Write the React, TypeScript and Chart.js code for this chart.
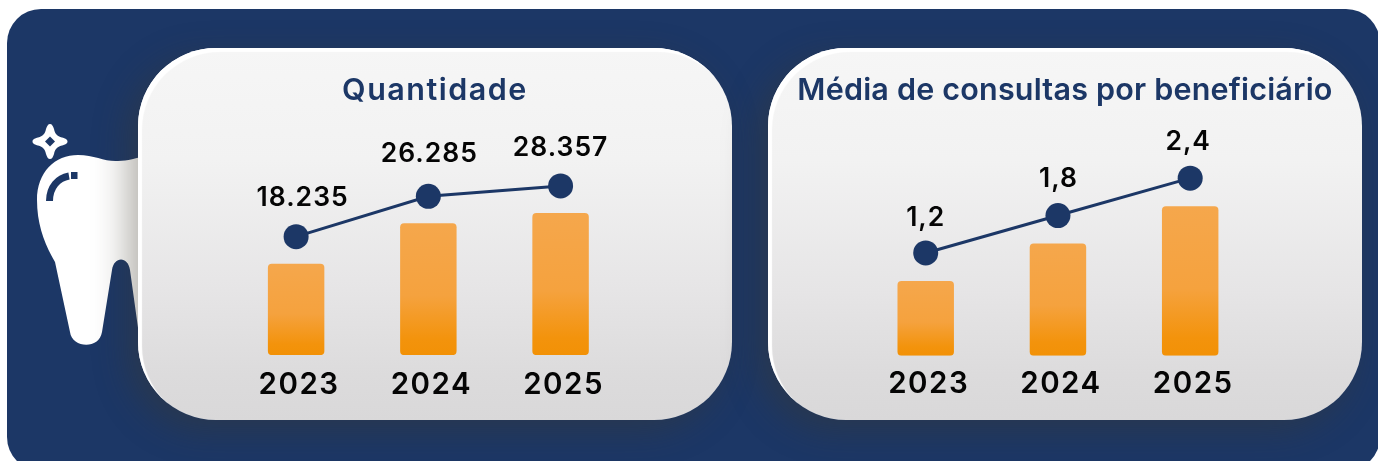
import React, { useEffect, useRef } from "react";
import { Chart, registerables } from "chart.js";

Chart.register(...registerables);

const years = ["2023", "2024", "2025"];
const quantidadeValues = [18235, 26285, 28357];
const quantidadeLabels = ["18.235", "26.285", "28.357"];
const mediaValues = [1.2, 1.8, 2.4];
const mediaLabels = ["1,2", "1,8", "2,4"];

const NAVY = "#1c3766";
const TEXT_FONT = "Inter";

const valueLabelPlugin = {
  id: "valueLabels",
  beforeDraw(chart: any, _args: any, opts: any) {
    const ctx = chart.ctx;
    ctx.letterSpacing = "1.5px";
    const block = chart.titleBlock;
    if (block && !block.__spaced) {
      const draw = block.draw;
      block.__spaced = true;
      block.draw = function (...rest: any[]) {
        ctx.save();
        ctx.letterSpacing = opts.titleSpacing;
        draw.apply(this, rest);
        ctx.restore();
      };
    }
  },
  afterDatasetsDraw(chart: any, _args: any, opts: any) {
    const ctx = chart.ctx;
    const points = chart.getDatasetMeta(1).data;
    ctx.save();
    ctx.letterSpacing = "1px";
    ctx.font = `600 26.5px ${TEXT_FONT}`;
    ctx.fillStyle = "#050505";
    ctx.textAlign = "center";
    ctx.textBaseline = "middle";
    points.forEach((p: any, i: number) => {
      ctx.fillText(opts.labels[i], p.x + opts.shift[i], p.y - opts.lift[i]);
    });
    ctx.restore();
  },
};

function barGradient(c: any) {
  const { chart, dataIndex, dataset } = c;
  const y = chart.scales.y;
  if (!y || dataIndex === undefined) return "#f5a544";
  const top = y.getPixelForValue(dataset.data[dataIndex]);
  const bottom = y.getPixelForValue(0);
  if (!Number.isFinite(top) || !Number.isFinite(bottom)) return "#f5a544";
  const g = chart.ctx.createLinearGradient(0, top, 0, bottom);
  g.addColorStop(0, "#f5a74c");
  g.addColorStop(0.55, "#f5a23e");
  g.addColorStop(0.88, "#f3930c");
  g.addColorStop(1, "#f29106");
  return g;
}

function Card(props: any) {
  const ref = useRef<HTMLCanvasElement>(null);
  useEffect(() => {
    const hiddenAxis = { grid: { display: false }, border: { display: false }, ticks: { display: false } };
    const chart = new Chart(ref.current as HTMLCanvasElement, {
      data: {
        labels: years,
        datasets: [
          {
            type: "bar",
            data: props.values,
            yAxisID: "y",
            backgroundColor: barGradient,
            borderRadius: 4,
            borderSkipped: false,
            barPercentage: 0.427,
            categoryPercentage: 1,
            order: 2,
          },
          {
            type: "line",
            data: props.values,
            yAxisID: "y1",
            borderColor: NAVY,
            borderWidth: 3,
            pointRadius: 12.5,
            pointHoverRadius: 12.5,
            pointBorderWidth: 0,
            pointBackgroundColor: NAVY,
            tension: 0,
            clip: false,
            order: 1,
          },
        ],
      } as any,
      options: {
        responsive: false,
        animation: false,
        layout: { padding: { left: 0, right: 0, top: 0, bottom: props.padBottom } },
        plugins: {
          legend: { display: false },
          tooltip: { enabled: false },
          title: {
            display: true,
            text: props.title,
            color: NAVY,
            font: { family: TEXT_FONT, size: 30.5, weight: "600" },
            padding: { top: 25, bottom: 19 },
          },
          valueLabels: { labels: props.labels, lift: props.lift, shift: props.shift, titleSpacing: props.titleSpacing },
        },
        scales: {
          x: {
            grid: { display: false, drawTicks: false },
            border: { display: false },
            ticks: {
              color: "#050505",
              font: { family: TEXT_FONT, size: 29.5, weight: "600" },
              padding: props.tickPad,
              labelOffset: 3,
              maxRotation: 0,
              autoSkip: false,
            },
          },
          y: {
            ...hiddenAxis,
            min: 0,
            max: props.yMax,
            afterFit: (s: any) => {
              s.width = props.padLeft;
            },
          },
          y1: {
            ...hiddenAxis,
            position: "right",
            min: props.lineMin,
            max: props.lineMax,
            afterFit: (s: any) => {
              s.width = props.padRight;
            },
          },
        },
      } as any,
      plugins: [valueLabelPlugin],
    } as any);
    return () => chart.destroy();
  }, []);
  return (
    <div
      style={{
        position: "absolute",
        left: props.left,
        top: 48,
        width: 594,
        height: 372,
        borderRadius: 78,
        background: "linear-gradient(180deg,#f6f6f6 0%,#f2f2f2 30%,#e6e5e6 65%,#dcdbdc 88%,#d9d8d9 100%)",
        boxShadow: "inset 4px 4px 1px #ffffff, -10px 10px 34px rgba(62,58,42,0.4)",
      }}
    >
      <canvas ref={ref} width={594} height={372} style={{ display: "block", width: 594, height: 372 }} />
    </div>
  );
}

function Tooth() {
  return (
    <svg width={160} height={461} style={{ position: "absolute", left: 0, top: 0 }}>
      <path
        fill="#ffffff"
        d="M37 200 C37 172 55 155 78 155 C95 155 105 162 118 161 C128 161 135 158 150 155 L150 340 L139 335 L130 270 C128 256 114 256 112 270 L102 332 C99 350 72 348 70 332 L55 262 C45 245 37 225 37 200 Z"
      />
      <path fill="none" stroke={NAVY} strokeWidth={7} d="M49.5 201 C49.5 187 58 178 69 176" />
      <rect x={71} y={172} width={6.5} height={7} fill={NAVY} />
      <path
        fill="#ffffff"
        d="M50 124 C52 124 53 126 54 129 C55 134 57 136 62 137.5 C65 138.5 67.5 139 67.5 141.5 C67.5 144 65 144.5 62 145.5 C57 147 55 149 54 154 C53 157 52 159 50 159 C48 159 47 157 46 154 C45 149 43 147 38 145.5 C35 144.5 32.5 144 32.5 141.5 C32.5 139 35 138.5 38 137.5 C43 136 45 134 46 129 C47 126 48 124 50 124 Z"
      />
      <path fill={NAVY} d="M50 136.5 L55 141.5 L50 146.5 L45 141.5 Z" />
    </svg>
  );
}

export default function App() {
  return (
    <div style={{ position: "absolute", left: 0, top: 0, width: 1378, height: 461, overflow: "hidden", background: "#fff" }}>
      <div style={{ position: "absolute", left: 7, top: 9, width: 1373, height: 462, borderRadius: 34, background: NAVY }} />
      <Tooth />
      <Card
        left={138}
        title="Quantidade"
        titleSpacing="1.5px"
        values={quantidadeValues}
        labels={quantidadeLabels}
        lift={[38.3, 42.3, 38.3]}
        shift={[6.5, 1, 0]}
        padLeft={92}
        padRight={105.3}
        tickPad={12}
        padBottom={5.5}
        yMax={45170}
        lineMin={-5383}
        lineMax={39787}
      />
      <Card
        left={768}
        title="Média de consultas por beneficiário"
        titleSpacing="0.2px"
        values={mediaValues}
        labels={mediaLabels}
        lift={[35.3, 37, 35.8]}
        shift={[0, 0.5, -2]}
        padLeft={91.6}
        padRight={105.7}
        tickPad={11}
        padBottom={6.8}
        yMax={3.645}
        lineMin={-0.45}
        lineMax={3.195}
      />
    </div>
  );
}
